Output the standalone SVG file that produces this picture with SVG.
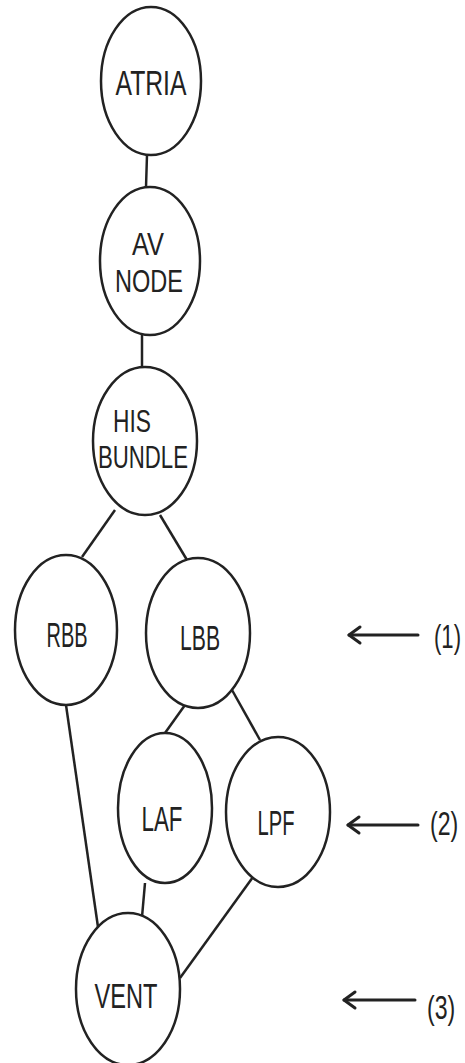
<svg xmlns="http://www.w3.org/2000/svg" width="465" height="1063" viewBox="0 0 465 1063">
<style>
.n{fill:#fff;stroke:#222;stroke-width:2.5}
.t{font-family:"Liberation Sans",Arial,sans-serif;font-size:35px;fill:#222;text-anchor:middle}
.t2{font-size:32px}
.c{stroke:#222;stroke-width:2.5;fill:none}
.a{stroke:#222;stroke-width:3;fill:none;stroke-linecap:round;stroke-linejoin:round}
.l{font-family:"Liberation Sans",Arial,sans-serif;font-size:34px;fill:#222}
</style>
<rect width="465" height="1063" fill="#fff"/>
<g id="connectors">
<line class="c" x1="147" y1="155" x2="146" y2="187"/>
<line class="c" x1="142" y1="335" x2="142" y2="368"/>
<line class="c" x1="115" y1="510" x2="82" y2="557"/>
<line class="c" x1="160" y1="515" x2="187" y2="560"/>
<line class="c" x1="185" y1="705" x2="165" y2="733"/>
<line class="c" x1="232" y1="690" x2="260" y2="740"/>
<line class="c" x1="66" y1="705" x2="98" y2="927"/>
<line class="c" x1="145" y1="883" x2="142" y2="917"/>
<line class="c" x1="253" y1="877" x2="180" y2="978"/>
</g>
<g id="atria"><ellipse class="n" cx="151" cy="81" rx="50" ry="74"/><text class="t" x="151" y="95" textLength="71" lengthAdjust="spacingAndGlyphs">ATRIA</text></g>
<g id="av-node"><ellipse class="n" cx="150" cy="261" rx="50" ry="74"/><text class="t t2"><tspan x="148" y="255" textLength="32" lengthAdjust="spacingAndGlyphs">AV</tspan><tspan x="149" y="292" textLength="68" lengthAdjust="spacingAndGlyphs">NODE</tspan></text></g>
<g id="his-bundle"><ellipse class="n" cx="145" cy="441" rx="52" ry="74"/><text class="t t2"><tspan x="132" y="432" textLength="38" lengthAdjust="spacingAndGlyphs">HIS</tspan><tspan x="143" y="468" textLength="90" lengthAdjust="spacingAndGlyphs">BUNDLE</tspan></text></g>
<g id="rbb"><ellipse class="n" cx="66" cy="630" rx="51" ry="75"/><text class="t" x="67" y="647" textLength="41" lengthAdjust="spacingAndGlyphs">RBB</text></g>
<g id="lbb"><ellipse class="n" cx="198" cy="633" rx="52" ry="75"/><text class="t" x="200" y="650" textLength="40" lengthAdjust="spacingAndGlyphs">LBB</text></g>
<g id="laf"><ellipse class="n" cx="165" cy="808" rx="47" ry="75"/><text class="t" x="162" y="831" textLength="41" lengthAdjust="spacingAndGlyphs">LAF</text></g>
<g id="lpf"><ellipse class="n" cx="278" cy="812" rx="52" ry="75"/><text class="t" x="276" y="835" textLength="37" lengthAdjust="spacingAndGlyphs">LPF</text></g>
<g id="vent"><ellipse class="n" cx="128" cy="989" rx="52" ry="76"/><text class="t" x="126" y="1008" textLength="63" lengthAdjust="spacingAndGlyphs">VENT</text></g>
<g id="marker-1"><line class="a" x1="349" y1="635" x2="418" y2="635"/><polyline class="a" points="360,627 349,635 360,643"/><text class="l" transform="translate(434,648) scale(0.65,1)">(1)</text></g>
<g id="marker-2"><line class="a" x1="348" y1="825" x2="418" y2="825"/><polyline class="a" points="359,817 348,825 359,833"/><text class="l" transform="translate(430,835) scale(0.68,1)">(2)</text></g>
<g id="marker-3"><line class="a" x1="344" y1="1000" x2="415" y2="1000"/><polyline class="a" points="355,992 344,1000 355,1008"/><text class="l" transform="translate(427,1019) scale(0.68,1)">(3)</text></g>
</svg>
